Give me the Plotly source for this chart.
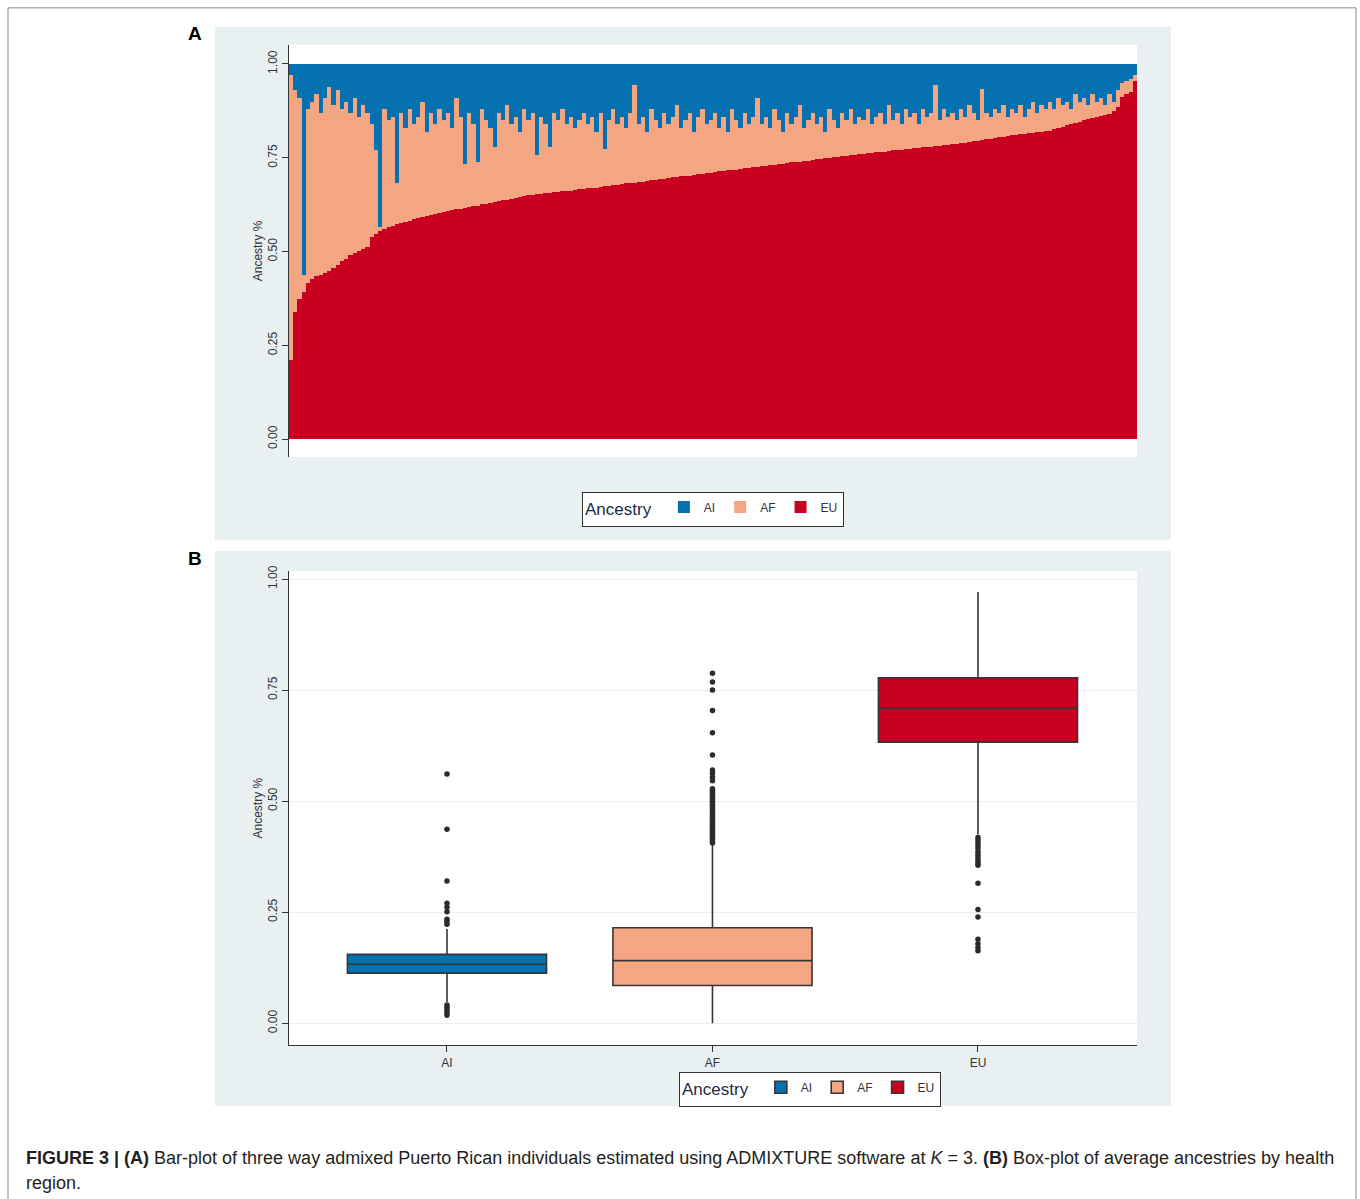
import plotly.graph_objects as go

# ---------------- data ----------------
# Panel A: per-individual ancestry proportions (sorted by EU)
EU = [0.21, 0.34, 0.375, 0.392, 0.416, 0.428, 0.434, 0.438, 0.443, 0.449,
      0.457, 0.465, 0.474, 0.481, 0.490, 0.497, 0.503, 0.507, 0.513, 0.540,
      0.548, 0.554, 0.561, 0.565, 0.569, 0.573, 0.577, 0.580, 0.583, 0.586,
      0.589, 0.592, 0.595, 0.597, 0.600, 0.603, 0.606, 0.608, 0.611, 0.613,
      0.615, 0.617, 0.619, 0.621, 0.623, 0.626, 0.628, 0.631, 0.633, 0.635,
      0.637, 0.639, 0.641, 0.644, 0.646, 0.648, 0.650, 0.651, 0.653, 0.655,
      0.656, 0.657, 0.658, 0.660, 0.661, 0.662, 0.663, 0.664, 0.666, 0.667,
      0.669, 0.670, 0.671, 0.673, 0.674, 0.676, 0.677, 0.679, 0.680, 0.682,
      0.683, 0.684, 0.686, 0.687, 0.689, 0.690, 0.692, 0.693, 0.695, 0.696,
      0.698, 0.699, 0.701, 0.702, 0.703, 0.705, 0.706, 0.708, 0.709, 0.711,
      0.712, 0.714, 0.715, 0.717, 0.718, 0.719, 0.721, 0.722, 0.724, 0.725,
      0.726, 0.728, 0.729, 0.731, 0.732, 0.733, 0.735, 0.736, 0.738, 0.739,
      0.740, 0.742, 0.743, 0.745, 0.746, 0.747, 0.749, 0.750, 0.752, 0.753,
      0.754, 0.756, 0.757, 0.759, 0.760, 0.761, 0.762, 0.763, 0.765, 0.766,
      0.767, 0.768, 0.770, 0.771, 0.772, 0.773, 0.774, 0.776, 0.777, 0.778,
      0.779, 0.780, 0.782, 0.783, 0.784, 0.785, 0.786, 0.788, 0.790, 0.791,
      0.793, 0.795, 0.796, 0.798, 0.800, 0.801, 0.803, 0.805, 0.806, 0.808,
      0.810, 0.811, 0.813, 0.814, 0.816, 0.817, 0.819, 0.820, 0.822, 0.823,
      0.826, 0.830, 0.833, 0.837, 0.840, 0.844, 0.847, 0.850, 0.853, 0.856,
      0.859, 0.862, 0.865, 0.868, 0.874, 0.885, 0.913, 0.920, 0.927, 0.955]

AI = [0.03, 0.07, 0.09, 0.563, 0.12, 0.10, 0.08, 0.13, 0.09, 0.06,
      0.11, 0.07, 0.12, 0.10, 0.13, 0.09, 0.14, 0.11, 0.13, 0.16,
      0.23, 0.435, 0.12, 0.15, 0.14, 0.317, 0.13, 0.17, 0.12, 0.16,
      0.14, 0.10, 0.18, 0.13, 0.16, 0.12, 0.15, 0.13, 0.17, 0.09,
      0.14, 0.265, 0.13, 0.16, 0.26, 0.12, 0.15, 0.17, 0.221, 0.13,
      0.15, 0.11, 0.16, 0.14, 0.18, 0.12, 0.15, 0.13, 0.243, 0.14,
      0.16, 0.221, 0.13, 0.15, 0.12, 0.16, 0.14, 0.17, 0.15, 0.13,
      0.16, 0.14, 0.18, 0.13, 0.225, 0.15, 0.12, 0.16, 0.14, 0.17,
      0.13, 0.055, 0.16, 0.14, 0.18, 0.12, 0.15, 0.17, 0.13, 0.16,
      0.14, 0.11, 0.17, 0.15, 0.13, 0.18, 0.14, 0.12, 0.16, 0.15,
      0.13, 0.17, 0.14, 0.18, 0.12, 0.15, 0.17, 0.13, 0.16, 0.14,
      0.09, 0.16, 0.14, 0.17, 0.12, 0.15, 0.18, 0.13, 0.16, 0.14,
      0.11, 0.17, 0.15, 0.13, 0.16, 0.14, 0.18, 0.12, 0.15, 0.17,
      0.13, 0.15, 0.12, 0.16, 0.14, 0.15, 0.12, 0.16, 0.14, 0.13,
      0.16, 0.11, 0.15, 0.13, 0.16, 0.12, 0.14, 0.13, 0.16, 0.12,
      0.14, 0.13, 0.055, 0.15, 0.12, 0.14, 0.13, 0.15, 0.12, 0.14,
      0.11, 0.13, 0.15, 0.065, 0.13, 0.14, 0.12, 0.13, 0.11, 0.14,
      0.12, 0.13, 0.11, 0.14, 0.12, 0.10, 0.13, 0.11, 0.12, 0.10,
      0.12, 0.09, 0.11, 0.10, 0.12, 0.08, 0.10, 0.09, 0.11, 0.08,
      0.10, 0.09, 0.11, 0.08, 0.10, 0.07, 0.05, 0.045, 0.04, 0.03]

# Panel B: box-plot summary statistics per ancestry
box_categories = ["AI", "AF", "EU"]
box_q1 = [0.113, 0.085, 0.633]
box_median = [0.133, 0.141, 0.710]
box_q3 = [0.155, 0.215, 0.778]
box_lowerfence = [0.048, 0.0, 0.425]
box_upperfence = [0.212, 0.403, 0.971]

outliers_AI = [0.561, 0.437, 0.320, 0.270, 0.261, 0.251, 0.234, 0.229, 0.223,
               0.041, 0.036, 0.031, 0.025, 0.018]
outliers_AF = [0.788, 0.768, 0.750, 0.704, 0.654, 0.604, 0.570, 0.563, 0.554, 0.546,
               0.528, 0.524, 0.520, 0.516, 0.512, 0.508, 0.504, 0.500, 0.496, 0.492,
               0.488, 0.484, 0.479, 0.474, 0.470, 0.466, 0.462, 0.458, 0.454, 0.450,
               0.446, 0.442, 0.438, 0.434, 0.430, 0.426, 0.422, 0.418, 0.414, 0.410, 0.406]
outliers_EU = [0.418, 0.412, 0.405, 0.399, 0.393, 0.385, 0.378, 0.372, 0.366, 0.360,
               0.356, 0.315, 0.256, 0.239, 0.189, 0.179, 0.170, 0.163]

y_tickvals = [0, 0.25, 0.5, 0.75, 1.0]
y_ticktext = ["0.00", "0.25", "0.50", "0.75", "1.00"]

# ---------------- styling ----------------
W, H = 1360, 1199
# measured page placement of the figure (small top offset and vertical squeeze)
TOP_OFFSET = 6.15
V_SCALE = 0.9946
def px(x):
    return x / W
def py(y):
    return 1 - ((y - TOP_OFFSET) / V_SCALE) / H

COLORS = {"AI": "#0571B0", "AF": "#F4A582", "EU": "#CA0020"}
PANEL_BG = "#e9f0f2"
AX_COL = "#333333"
FONT = "Liberation Sans, Arial, sans-serif"

individuals = list(range(len(EU)))
AF = [round(1 - e - a, 4) for e, a in zip(EU, AI)]

fig = go.Figure()

# Panel A stacked bars (bottom to top: EU, AF, AI)
for name, vals, rank in [("EU", EU, 3), ("AF", AF, 2), ("AI", AI, 1)]:
    fig.add_trace(go.Bar(
        x=individuals, y=vals, name=name,
        marker=dict(color=COLORS[name], line=dict(width=0)),
        xaxis="x", yaxis="y", legend="legend", legendrank=rank,
        hoverinfo="skip"))

# Panel B boxes
outliers = {"AI": outliers_AI, "AF": outliers_AF, "EU": outliers_EU}
for i, cat in enumerate(box_categories):
    fig.add_trace(go.Box(
        x=[cat], q1=[box_q1[i]], median=[box_median[i]], q3=[box_q3[i]],
        lowerfence=[box_lowerfence[i]], upperfence=[box_upperfence[i]],
        name=cat, fillcolor=COLORS[cat],
        line=dict(color="#363636", width=1.6),
        whiskerwidth=0, width=0.75, boxpoints=False,
        xaxis="x2", yaxis="y2", legend="legend2", legendrank=i + 1))
for cat in box_categories:
    fig.add_trace(go.Scatter(
        x=[cat] * len(outliers[cat]), y=outliers[cat], mode="markers",
        marker=dict(color="#2b2b2b", size=5.5),
        showlegend=False, xaxis="x2", yaxis="y2", hoverinfo="y"))

shapes = [
    # outer figure frame
    dict(type="rect", xref="paper", yref="paper", x0=px(8), x1=px(1356), y0=py(1215), y1=py(8),
         line=dict(color="#8a8a8a", width=1), fillcolor="rgba(0,0,0,0)", layer="below"),
    # panel backgrounds
    dict(type="rect", xref="paper", yref="paper", x0=px(215), x1=px(1171), y0=py(540), y1=py(27),
         line=dict(width=0), fillcolor=PANEL_BG, layer="below"),
    dict(type="rect", xref="paper", yref="paper", x0=px(215), x1=px(1171), y0=py(1106), y1=py(551),
         line=dict(width=0), fillcolor=PANEL_BG, layer="below"),
    # white plot regions
    dict(type="rect", xref="paper", yref="paper", x0=px(289), x1=px(1137), y0=py(457), y1=py(45),
         line=dict(width=0), fillcolor="white", layer="below"),
    dict(type="rect", xref="paper", yref="paper", x0=px(289), x1=px(1137), y0=py(1045), y1=py(571),
         line=dict(width=0), fillcolor="white", layer="below"),
]

annotations = [
    dict(text="<b>A</b>", x=px(195), y=py(34), xref="paper", yref="paper", showarrow=False,
         font=dict(size=19, color="black", family=FONT), xanchor="center", yanchor="middle"),
    dict(text="<b>B</b>", x=px(195), y=py(558), xref="paper", yref="paper", showarrow=False,
         font=dict(size=19, color="black", family=FONT), xanchor="center", yanchor="middle"),
    dict(text="<b>FIGURE 3 | (A)</b> Bar-plot of three way admixed Puerto Rican individuals estimated "
              "using ADMIXTURE software at <i>K</i> = 3. <b>(B)</b> Box-plot of average ancestries by health",
         x=px(24), y=py(1158), xref="paper", yref="paper", showarrow=False,
         font=dict(size=18, color="#231f20", family=FONT), xanchor="left", yanchor="middle"),
    dict(text="region.", x=px(24), y=py(1183), xref="paper", yref="paper", showarrow=False,
         font=dict(size=18, color="#231f20", family=FONT), xanchor="left", yanchor="middle"),
]

yaxis_common = dict(
    tickvals=y_tickvals, ticktext=y_ticktext, tickangle=-90,
    ticks="outside", ticklen=6, tickcolor=AX_COL, tickwidth=1,
    showline=True, linecolor=AX_COL, linewidth=1,
    zeroline=False, tickfont=dict(size=12, color="#333", family=FONT),
    title=dict(text="Ancestry %", font=dict(size=12, color="#333", family=FONT), standoff=0),
)

legend_common = dict(
    orientation="h", bgcolor="white", bordercolor=AX_COL, borderwidth=1,
    font=dict(size=12, color="#333", family=FONT), traceorder="normal",
    xanchor="center", yanchor="middle",
)

fig.update_layout(
    width=W, height=H,
    margin=dict(l=0, r=0, t=0, b=0),
    paper_bgcolor="white", plot_bgcolor="rgba(0,0,0,0)",
    font=dict(family=FONT),
    barmode="stack", bargap=0,
    showlegend=True,
    xaxis=dict(domain=[px(289), px(1137)], anchor="y", visible=False,
               range=[-0.5, len(EU) - 0.5], fixedrange=True),
    yaxis=dict(domain=[py(457), py(45)], anchor="x", range=[-0.048, 1.051],
               showgrid=False, **yaxis_common),
    xaxis2=dict(domain=[px(289), px(1137)], anchor="y2", type="category",
                categoryorder="array", categoryarray=box_categories,
                range=[-0.595, 2.599], showline=True, linecolor=AX_COL, linewidth=1,
                ticks="outside", ticklen=6, tickcolor=AX_COL, showgrid=False, zeroline=False,
                tickfont=dict(size=12, color="#333", family=FONT)),
    yaxis2=dict(domain=[py(1045), py(571)], anchor="x2", range=[-0.0495, 1.018],
                showgrid=True, gridcolor="#e9eff2", gridwidth=1, **yaxis_common),
    legend=dict(x=px(713), y=py(509),
                title=dict(text="Ancestry ", side="left",
                           font=dict(size=17, color="#1e2b47", family=FONT)),
                **legend_common),
    legend2=dict(x=px(810), y=py(1089),
                 title=dict(text="Ancestry ", side="left",
                            font=dict(size=17, color="#1e2b47", family=FONT)),
                 **legend_common),
    shapes=shapes,
    annotations=annotations,
)

fig.write_html("out.html", config={"displayModeBar": False},
               post_script="document.body.style.margin='0';document.body.style.overflow='hidden';")
